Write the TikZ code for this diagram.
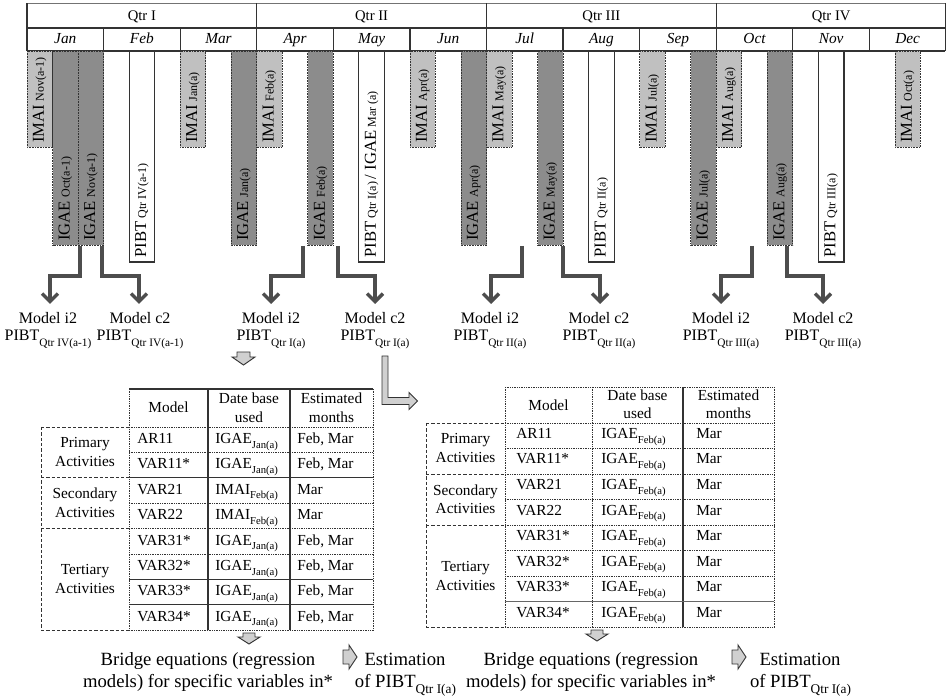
\documentclass[tikz,border=0pt]{standalone}
\usepackage{fontspec}
\setmainfont{Liberation Serif}
\usetikzlibrary{arrows.meta}
\definecolor{lightbar}{HTML}{C0C0C0}
\definecolor{darkbar}{HTML}{8C8C8C}
\definecolor{conncol}{HTML}{4D4D4D}
\definecolor{edgecol}{HTML}{333333}
\definecolor{fatfill}{HTML}{D0D0D0}
\newcommand{\bartxt}[2]{{\fontsize{12.5}{13}\selectfont #1}\hspace{2.5pt}{\fontsize{9}{10}\selectfont #2}}
\newcommand{\bigt}[1]{{\fontsize{12.5}{13}\selectfont #1}}
\newcommand{\smt}[1]{{\fontsize{9}{10}\selectfont #1}}
\newcommand{\msub}[1]{\raisebox{-4.5pt}{\fontsize{8.5}{9}\selectfont #1}}
\newcommand{\tsub}[1]{\raisebox{-3.5pt}{\fontsize{8}{9}\selectfont #1}}
\newcommand{\bsub}[1]{\raisebox{-4.5pt}{\fontsize{10}{11}\selectfont #1}}
\newcommand{\mybar}[5]{\path[#4] (#2,51) rectangle (#2+25.53,#3); \node[bartext] (#1) at (#2+12.77,#3-4) {#5};}
\begin{document}
\begin{tikzpicture}[x=0.75pt,y=-0.75pt,
  hdr/.style={draw=edgecol,line width=0.9pt},
  qtrtxt/.style={font=\fontsize{11}{12}\selectfont,anchor=base,inner sep=0pt},
  montxt/.style={font=\fontsize{11.5}{12}\selectfont\itshape,anchor=base,inner sep=0pt},
  lightb/.style={fill=lightbar,draw=edgecol,line width=0.6pt,dash pattern=on 0.6pt off 0.6pt},
  darkb/.style={fill=darkbar,draw=edgecol,line width=0.6pt,dash pattern=on 0.6pt off 0.6pt},
  whiteb/.style={fill=white,draw=edgecol,line width=0.9pt},
  bartext/.style={rotate=90,anchor=west,inner sep=0pt},
  conn/.style={draw=conncol,line width=2.6pt,-{Straight Barb[length=6pt,width=12pt]}},
  mlab/.style={font=\fontsize{12}{13}\selectfont,anchor=base,inner sep=0pt},
  tline/.style={draw=edgecol,line width=0.8pt},
  tdot/.style={draw=edgecol,line width=0.6pt,dash pattern=on 0.6pt off 0.7pt},
  tdash/.style={draw=edgecol,line width=0.7pt,dash pattern=on 2.5pt off 1.5pt},
  ttxt/.style={font=\fontsize{11.5}{12}\selectfont,inner sep=0pt},
  fat/.style={fill=fatfill,draw=edgecol,line width=0.7pt,line join=miter},
  btxt/.style={font=\fontsize{14}{15}\selectfont,anchor=base,inner sep=0pt}
]
\useasboundingbox (0,0) rectangle (946,698);
% ---------- header ----------
\draw[hdr,draw=black!55] (27,3.5) -- (945.3,3.5);
\draw[hdr] (27,28) -- (945.3,28);
\draw[hdr] (27,51) -- (945.3,51);
\foreach \x in {27,256.75,486.5,716.25,945.3} \draw[hdr] (\x,3.5) -- (\x,51);
\foreach \i in {1,2,4,5,7,8,10,11} \draw[hdr] ({27+76.583*\i},28) -- ({27+76.583*\i},51);
\foreach \n [count=\i from 0] in {I,II,III,IV}
  \node[qtrtxt] (q\i) at ({27+229.75*\i+114.875},21) {Qtr \n};
\foreach \n [count=\i from 0] in {Jan,Feb,Mar,Apr,May,Jun,Jul,Aug,Sep,Oct,Nov,Dec}
  \node[montxt] (mo\i) at ({27+76.583*\i+38.29},44) {\n};
% ---------- bars ----------
\mybar{b1}{27}{147}{lightb}{\bartxt{IMAI}{Nov(a-1)}}
\mybar{b2}{52.53}{245}{darkb}{\bartxt{IGAE}{Oct(a-1)}}
\mybar{b3}{78.06}{245}{darkb}{\bartxt{IGAE}{Nov(a-1)}}
\mybar{b4}{129.11}{262}{whiteb}{\bartxt{PIBT}{Qtr IV(a-1)}}
\mybar{b5}{180.17}{147}{lightb}{\bartxt{IMAI}{Jan(a)}}
\mybar{b6}{231.23}{245}{darkb}{\bartxt{IGAE}{Jan(a)}}
\mybar{b7}{256.75}{147}{lightb}{\bartxt{IMAI}{Feb(a)}}
\mybar{b8}{307.81}{245}{darkb}{\bartxt{IGAE}{Feb(a)}}
\mybar{b9}{358.86}{262}{whiteb}{\bigt{PIBT}\hspace{2.5pt}\smt{Qtr I(a)}\hspace{2pt}\bigt{/ IGAE}\hspace{2.5pt}\smt{Mar (a)}}
\mybar{b10}{409.92}{147}{lightb}{\bartxt{IMAI}{Apr(a)}}
\mybar{b11}{460.98}{245}{darkb}{\bartxt{IGAE}{Apr(a)}}
\mybar{b12}{486.5}{147}{lightb}{\bartxt{IMAI}{May(a)}}
\mybar{b13}{537.56}{245}{darkb}{\bartxt{IGAE}{May(a)}}
\mybar{b14}{588.61}{262}{whiteb}{\bartxt{PIBT}{Qtr II(a)}}
\mybar{b15}{639.67}{147}{lightb}{\bartxt{IMAI}{Jul(a)}}
\mybar{b16}{690.73}{245}{darkb}{\bartxt{IGAE}{Jul(a)}}
\mybar{b17}{716.25}{147}{lightb}{\bartxt{IMAI}{Aug(a)}}
\mybar{b18}{767.31}{245}{darkb}{\bartxt{IGAE}{Aug(a)}}
\mybar{b19}{818.36}{262}{whiteb}{\bartxt{PIBT}{Qtr III(a)}}
\mybar{b20}{894.95}{147}{lightb}{\bartxt{IMAI}{Oct(a)}}
% ---------- connectors ----------
\foreach \k/\sx/\ex in {1/80/50, 2/102/139, 3/303/271, 4/338/375, 5/522/491, 6/563/600, 7/752/721, 8/787/823} {
  \coordinate (s\k) at (\sx,246);
  \coordinate (e\k) at (\ex,304);
  \draw[conn] (s\k) -- ++(0,30) -| (e\k);
}
% ---------- model labels ----------
\foreach \k/\x/\a/\b in {1/48/i2/Qtr IV(a-1), 2/140/c2/Qtr IV(a-1), 3/271/i2/Qtr I(a), 4/375/c2/Qtr I(a), 5/490/i2/Qtr II(a), 6/599/c2/Qtr II(a), 7/721/i2/Qtr III(a), 8/823/c2/Qtr III(a)} {
  \node[mlab] (ma\k) at (\x,324) {Model \a};
  \node[mlab] (mb\k) at (\x,341) {PIBT\msub{\b}};
}
% ---------- fat arrows ----------
\draw[fat] (237,352) -- (250,352) -- (250,357) -- (255,357) -- (243.5,365) -- (232,357) -- (237,357) -- cycle;
\draw[fat] (382,356) -- (388,356) -- (388,397.5) -- (409,397.5) -- (409,392.5) -- (417.5,401) -- (409,409.5) -- (409,404.5) -- (382,404.5) -- cycle;
\draw[fat] (243,633) -- (255,633) -- (255,637) -- (260,637) -- (249,644) -- (238,637) -- (243,637) -- cycle;
\draw[fat] (591,630) -- (603,630) -- (603,634) -- (608,634) -- (597,641) -- (586,634) -- (591,634) -- cycle;
\draw[fat] (343,650) -- (349,650) -- (349,645) -- (357,657) -- (349,669) -- (349,664) -- (343,664) -- cycle;
\draw[fat] (732,650) -- (738,650) -- (738,645) -- (746,657) -- (738,669) -- (738,664) -- (732,664) -- cycle;
% ---------- left table ----------
\foreach \x in {129,373} \draw[tdot] (\x,389) -- (\x,630);
\foreach \y in {427,452.4,503.1,528.5,553.9,630} \draw[tdot] (129,\y) -- (373,\y);
\draw[tline] (129,389) -- (373,389);
\foreach \x in {208,290} \draw[tline] (\x,389) -- (\x,630);
\foreach \y in {477.75,579.25,604.6} \draw[tline] (129,\y) -- (373,\y);
\foreach \y in {427,477.75,528.5,630} \draw[tdash] (41,\y) -- (129,\y);
\draw[tdash] (41,427) -- (41,630);
\node[ttxt,anchor=base] (lh1) at (168.5,413) {Model};
\node[ttxt,anchor=base] (lh2a) at (249,404) {Date base};
\node[ttxt,anchor=base] (lh2b) at (249,422) {used};
\node[ttxt,anchor=base] (lh3a) at (331.5,404) {Estimated};
\node[ttxt,anchor=base] (lh3b) at (331.5,422) {months};
\node[ttxt,anchor=base] (lg1a) at (85,447.9) {Primary};
\node[ttxt,anchor=base] (lg1b) at (85,466.4) {Activities};
\node[ttxt,anchor=base] (lg2a) at (85,498.6) {Secondary};
\node[ttxt,anchor=base] (lg2b) at (85,517.1) {Activities};
\node[ttxt,anchor=base] (lg3a) at (85,574.75) {Tertiary};
\node[ttxt,anchor=base] (lg3b) at (85,593.25) {Activities};
\foreach \m/\d/\e [count=\i from 0] in {AR11/IGAE\tsub{Jan(a)}/{Feb, Mar}, VAR11*/IGAE\tsub{Jan(a)}/{Feb, Mar}, VAR21/IMAI\tsub{Feb(a)}/Mar, VAR22/IMAI\tsub{Feb(a)}/Mar, VAR31*/IGAE\tsub{Jan(a)}/{Feb, Mar}, VAR32*/IGAE\tsub{Jan(a)}/{Feb, Mar}, VAR33*/IGAE\tsub{Jan(a)}/{Feb, Mar}, VAR34*/IGAE\tsub{Jan(a)}/{Feb, Mar}} {
  \node[ttxt,anchor=base west] (lm\i) at (137,{443.5+25.375*\i}) {\m};
  \node[ttxt,anchor=base west] (ld\i) at (215,{443.5+25.375*\i}) {\d};
  \node[ttxt,anchor=base west] (le\i) at (297,{443.5+25.375*\i}) {\e};
}
% ---------- right table ----------
\foreach \y in {387,423,448.5,474,499.5,525,550.5,576,627} \draw[tdot] (505,\y) -- (774,\y);
\foreach \x in {505,592,774} \draw[tdot] (\x,387) -- (\x,627);
\draw[tline] (683,387) -- (683,627);
\draw[tline,draw=black!60,line width=1.2pt] (505,601.5) -- (774,601.5);
\foreach \y in {423,474,525,627} \draw[tdash] (426,\y) -- (505,\y);
\draw[tdash] (426,423) -- (426,627);
\node[ttxt,anchor=base] (rh1) at (548.5,411) {Model};
\node[ttxt,anchor=base] (rh2a) at (637.5,401) {Date base};
\node[ttxt,anchor=base] (rh2b) at (637.5,419) {used};
\node[ttxt,anchor=base] (rh3a) at (728.5,401) {Estimated};
\node[ttxt,anchor=base] (rh3b) at (728.5,419) {months};
\node[ttxt,anchor=base] (rg1a) at (465.5,444) {Primary};
\node[ttxt,anchor=base] (rg1b) at (465.5,462.5) {Activities};
\node[ttxt,anchor=base] (rg2a) at (465.5,495) {Secondary};
\node[ttxt,anchor=base] (rg2b) at (465.5,513.5) {Activities};
\node[ttxt,anchor=base] (rg3a) at (465.5,571.5) {Tertiary};
\node[ttxt,anchor=base] (rg3b) at (465.5,590) {Activities};
\foreach \m [count=\i from 0] in {AR11,VAR11*,VAR21,VAR22,VAR31*,VAR32*,VAR33*,VAR34*} {
  \node[ttxt,anchor=base west] (rm\i) at (516,{438.5+25.5*\i}) {\m};
  \node[ttxt,anchor=base west] (rd\i) at (601,{438.5+25.5*\i}) {IGAE\tsub{Feb(a)}};
  \node[ttxt,anchor=base west] (re\i) at (696,{438.5+25.5*\i}) {Mar};
}
% ---------- bottom texts ----------
\node[btxt] (bt1a) at (208,665) {Bridge equations (regression};
\node[btxt] (bt1b) at (208,687) {models) for specific variables in*};
\node[btxt] (es1a) at (405,665) {Estimation};
\node[btxt] (es1b) at (405.5,687) {of PIBT\bsub{Qtr I(a)}};
\node[btxt] (bt2a) at (591,665) {Bridge equations (regression};
\node[btxt] (bt2b) at (591,687) {models) for specific variables in*};
\node[btxt] (es2a) at (800,665) {Estimation};
\node[btxt] (es2b) at (800.5,687) {of PIBT\bsub{Qtr I(a)}};
\end{tikzpicture}
\end{document}
